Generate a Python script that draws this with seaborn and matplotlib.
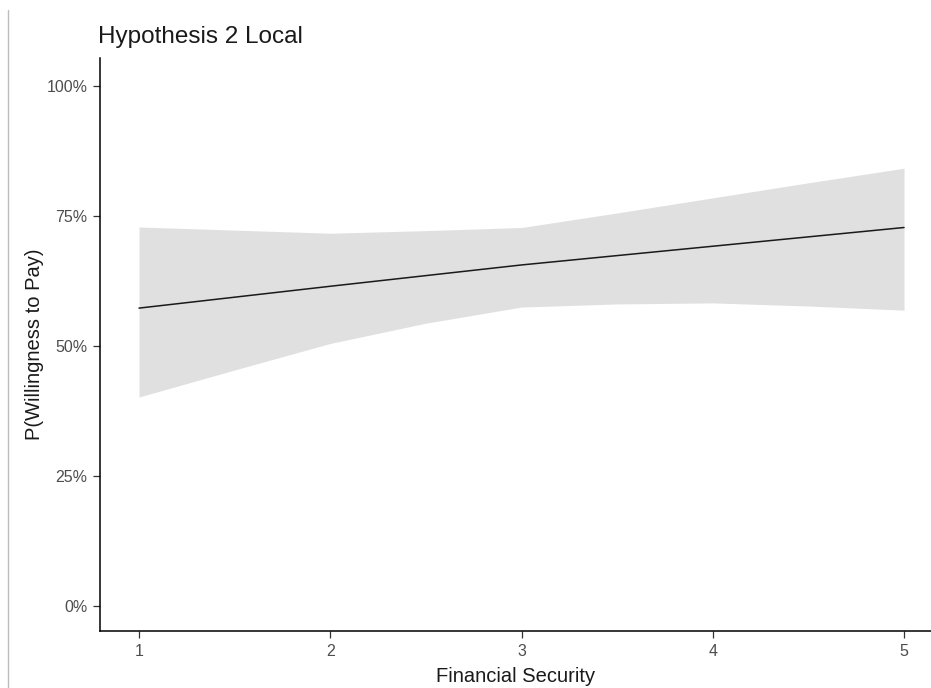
import numpy as np
import pandas as pd
import matplotlib
matplotlib.use("Agg")
import matplotlib.pyplot as plt
from matplotlib.lines import Line2D
from matplotlib.ticker import PercentFormatter
import seaborn as sns

# Predicted probability of willingness to pay by financial security
security = [1, 2, 3, 4, 5]
predicted = [0.573, 0.615, 0.656, 0.692, 0.728]

# Confidence band (evaluated at half steps)
band_x = [1.0, 1.5, 2.0, 2.5, 3.0, 3.5, 4.0, 4.5, 5.0]
band_upper = [0.729, 0.723, 0.717, 0.722, 0.728, 0.756, 0.785, 0.814, 0.842]
band_lower = [0.402, 0.454, 0.505, 0.544, 0.575, 0.581, 0.583, 0.577, 0.569]

y_ticks = [0, 0.25, 0.5, 0.75, 1.0]
x_ticks = [1, 2, 3, 4, 5]

sns.set_theme(style="ticks")
plt.rcParams["font.family"] = ["Liberation Sans", "DejaVu Sans"]

fig = plt.figure(figsize=(9.31, 6.88), dpi=100)
ax = fig.add_axes([100 / 931, 1 - 631 / 688, 1 - 100 / 931, (631 - 58) / 688])

df = pd.DataFrame({"security": security, "predicted": predicted})
ax.fill_between(band_x, band_lower, band_upper, color="#E0E0E0", linewidth=0, zorder=1)
sns.lineplot(data=df, x="security", y="predicted", ax=ax, color="#1a1a1a",
             linewidth=1.1, zorder=2)

ax.set_xlim(0.796, 5.141)
ax.set_ylim(-0.048, 1.054)
ax.set_xticks(x_ticks)
ax.set_yticks(y_ticks)
ax.yaxis.set_major_formatter(PercentFormatter(1.0, decimals=0))

for side in ("top", "right"):
    ax.spines[side].set_visible(False)
for side in ("left", "bottom"):
    ax.spines[side].set_color("black")
    ax.spines[side].set_linewidth(1.1)

ax.tick_params(axis="both", length=5, width=0.9, color="#333333",
               labelcolor="#4D4D4D", labelsize=11.5, pad=4)

ax.set_xlabel("Financial Security", fontsize=14.5, color="#1a1a1a", labelpad=6)
ax.set_ylabel("P(Willingness to Pay)", fontsize=14.5, color="#1a1a1a", labelpad=2)

fig.text(98 / 931, 1 - 37 / 688, "Hypothesis 2 Local", fontsize=17.5,
         color="#1a1a1a", ha="left", va="center")

# thin frame line on the left edge
fig.add_artist(Line2D([8 / 931, 8 / 931], [0, 1 - 10 / 688],
                      transform=fig.transFigure, color="#BDBDBD", linewidth=1.0))

fig.savefig("out.png", dpi=100, facecolor="white")
